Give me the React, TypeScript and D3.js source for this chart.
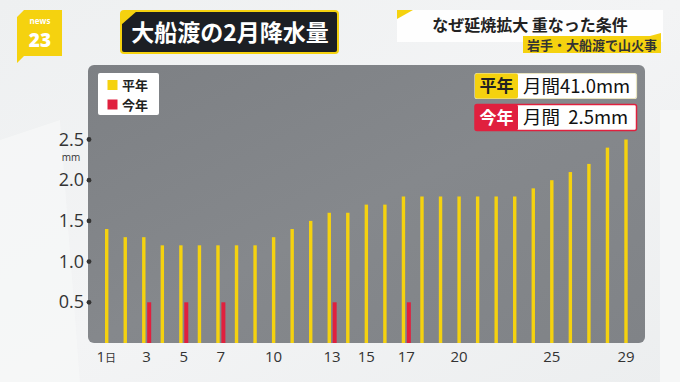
import React from "react";
import * as d3 from "d3";

const days: number[] = Array.from({ length: 29 }, (_, i) => i + 1);
const normalValues: number[] = [
  1.4, 1.3, 1.3, 1.2, 1.2, 1.2, 1.2, 1.2, 1.2, 1.3,
  1.4, 1.5, 1.6, 1.6, 1.7, 1.7, 1.8, 1.8, 1.8, 1.8,
  1.8, 1.8, 1.8, 1.9, 2.0, 2.1, 2.2, 2.4, 2.5,
];
const thisYearValues: number[] = [
  0, 0, 0.5, 0, 0.5, 0, 0.5, 0, 0, 0,
  0, 0, 0.5, 0, 0, 0, 0.5, 0, 0, 0,
  0, 0, 0, 0, 0, 0, 0, 0, 0,
];
const yTicks: number[] = [0.5, 1.0, 1.5, 2.0, 2.5];
const xTickDays: number[] = [1, 3, 5, 7, 10, 13, 15, 17, 20, 25, 29];

const W = 680;
const H = 382;
const YELLOW = "#f5d20f";
const RED = "#e0203e";
const JP = "'Noto Sans CJK JP', 'Noto Sans', sans-serif";
const NUM = "'Open Sans', 'Noto Sans', sans-serif";

export default function App() {
  const x = d3.scaleLinear().domain([1, 29]).range([106.7, 626]);
  const y = d3.scaleLinear().domain([0, 2.5]).range([343, 139.5]);
  const panel = { x0: 88, x1: 645, y0: 65, y1: 343 };

  return (
    <svg
      width={W}
      height={H}
      viewBox={`0 0 ${W} ${H}`}
      style={{ position: "absolute", left: 0, top: 0, display: "block" }}
    >
      <defs>
        <linearGradient id="bg" x1="0" y1="0" x2="1" y2="1">
          <stop offset="0" stopColor="#eef0f1" />
          <stop offset="0.5" stopColor="#f3f4f5" />
          <stop offset="1" stopColor="#eceeef" />
        </linearGradient>
        <linearGradient id="panelG" x1="0" y1="0" x2="1" y2="1">
          <stop offset="0" stopColor="#7d8084" />
          <stop offset="0.5" stopColor="#85888c" />
          <stop offset="1" stopColor="#808387" />
        </linearGradient>
        <clipPath id="panelClip">
          <rect x={panel.x0} y={panel.y0} width={panel.x1 - panel.x0} height={panel.y1 - panel.y0} rx={6} />
        </clipPath>
      </defs>
      <rect x={0} y={0} width={W} height={H} fill="url(#bg)" />
      <polygon points="0,140 60,120 80,382 0,382" fill="#f7f8f8" opacity={0.7} />
      <rect x={660} y={110} width={20} height={272} fill="#f6f7f7" />

      {/* logo */}
      <polygon points="24,10 62,10 62,56 24,56 17,63 17,17" fill={YELLOW} />
      <text x={40} y={24} fontFamily={NUM} fontWeight={700} fontSize={8} fill="#fff" textAnchor="middle">news</text>
      <text x={40} y={47} fontFamily={NUM} fontWeight={800} fontSize={19} fill="#fff" textAnchor="middle">23</text>

      {/* title */}
      <rect x={121} y={11} width={217} height={42} rx={3} fill="#1c1f24" stroke={YELLOW} strokeWidth={2} />
      <polygon points="121,11 137,11 121,25" fill={YELLOW} />
      <text x={230} y={41} fontFamily={JP} fontWeight={700} fontSize={23} fill="#fff" textAnchor="middle">大船渡の2月降水量</text>

      {/* top right */}
      <rect x={397} y={10} width={266} height={32} fill="#ffffff" opacity={0.9} />
      <polygon points="397,10 413,10 397,19" fill={YELLOW} />
      <text x={530} y={31} fontFamily={JP} fontWeight={700} fontSize={16} fill="#222" textAnchor="middle">なぜ延焼拡大 重なった条件</text>
      <rect x={523} y={36} width={138} height={17} fill={YELLOW} />
      <polygon points="661,33 661,42 650,36" fill={YELLOW} />
      <text x={592} y={50} fontFamily={JP} fontWeight={700} fontSize={13} fill="#333" textAnchor="middle">岩手・大船渡で山火事</text>

      {/* panel */}
      <rect x={panel.x0} y={panel.y0} width={panel.x1 - panel.x0} height={panel.y1 - panel.y0} rx={6} fill="url(#panelG)" />

      <g clipPath="url(#panelClip)">
        {days.map((d, i) => (
          <rect key={`n${d}`} x={x(d) - 1.7} y={y(normalValues[i])} width={3.4} height={y(0) - y(normalValues[i])} fill={YELLOW} />
        ))}
        {days.map((d, i) =>
          thisYearValues[i] > 0 ? (
            <rect key={`t${d}`} x={x(d) + 3.4} y={y(thisYearValues[i])} width={4} height={y(0) - y(thisYearValues[i])} fill={RED} />
          ) : null
        )}
      </g>

      {/* y axis */}
      {yTicks.map((t) => (
        <g key={`y${t}`}>
          <circle cx={89} cy={y(t)} r={2.4} fill="#333" />
          <text x={84} y={y(t) + 6} fontFamily={NUM} fontSize={18} fill="#333" textAnchor="end">{t.toFixed(1)}</text>
        </g>
      ))}
      <text x={71} y={160.5} fontFamily={NUM} fontSize={10} fill="#333" textAnchor="middle">mm</text>

      {/* x axis */}
      {xTickDays.map((d) => {
        const off = thisYearValues[d - 1] > 0 ? 2.8 : 0;
        return d === 1 ? (
          <text key={`x${d}`} x={x(d) - 0.5} y={362} fontFamily={NUM} fontSize={15} fill="#333" textAnchor="middle">
            1<tspan fontSize={11} fontFamily={JP}>日</tspan>
          </text>
        ) : (
          <text key={`x${d}`} x={x(d) + off} y={362} fontFamily={NUM} fontSize={15} fill="#333" textAnchor="middle">{d}</text>
        );
      })}

      {/* legend */}
      <rect x={98} y={73} width={61} height={42} rx={2} fill="#fff" />
      <rect x={107.5} y={80} width={10} height={10} fill={YELLOW} />
      <text x={122} y={90} fontFamily={JP} fontWeight={700} fontSize={13} fill="#222">平年</text>
      <rect x={107.5} y={99.5} width={10} height={10} fill={RED} />
      <text x={122} y={110} fontFamily={JP} fontWeight={700} fontSize={13} fill="#222">今年</text>

      {/* summary boxes */}
      <rect x={475} y={73.5} width={161.5} height={25} rx={2} fill="#fff" stroke="#e9e4c0" strokeWidth={1.2} />
      <rect x={475} y={73.5} width={43} height={25} rx={2} fill={YELLOW} />
      <text x={496.5} y={92} fontFamily={JP} fontWeight={700} fontSize={17} fill="#222" textAnchor="middle">平年</text>
      <text x={523} y={92.5} fontFamily={JP} fontSize={18.5} fill="#111">月間41.0mm</text>

      <rect x={475} y={104.5} width={161.5} height={26} rx={2} fill="#fff" stroke={RED} strokeWidth={1.5} />
      <rect x={475} y={104.5} width={43} height={26} rx={2} fill={RED} />
      <text x={496.5} y={124} fontFamily={JP} fontWeight={700} fontSize={17} fill="#fff" textAnchor="middle">今年</text>
      <text x={523} y={124} fontFamily={JP} fontSize={18.5} fill="#111" xmlSpace="preserve">月間  2.5mm</text>
    </svg>
  );
}
